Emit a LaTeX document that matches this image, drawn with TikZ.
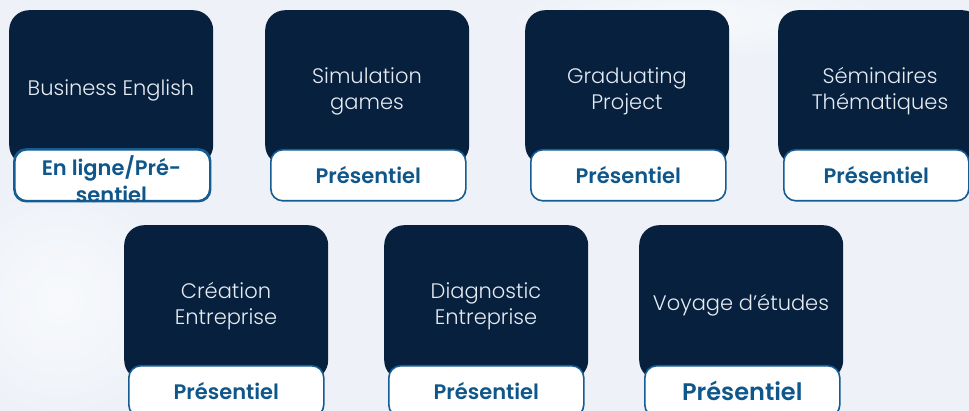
\documentclass[tikz,border=0pt]{standalone}
\usepackage{fontspec}
\setmainfont{Poppins}
\newfontfamily\lightfont{Poppins}[UprightFont=* Light]
\newfontfamily\semifont{Poppins}[UprightFont=* SemiBold]
\definecolor{navy}{HTML}{06203D}
\definecolor{bordblue}{HTML}{155C93}
\definecolor{labblue}{HTML}{0F568B}
\definecolor{bgc}{HTML}{EEF2F8}
\definecolor{softwhite}{HTML}{E6EBF2}
\begin{document}
\begin{tikzpicture}[x=1pt,y=-1pt,
  darkbox/.style={fill=navy, rounded corners=20pt, minimum width=204pt, minimum height=155pt,
    anchor=north west, inner sep=0pt},
  boxtext/.style={text=softwhite, align=center, font=\lightfont\fontsize{21}{26}\selectfont},
  labbox/.style={fill=white, draw=bordblue, line width=1.6pt, rounded corners=12pt,
    minimum width=195pt, minimum height=51pt, anchor=north west, inner sep=0pt,
    text=labblue, align=center, font=\semifont\fontsize{21}{27}\selectfont}]
\useasboundingbox (0,0) rectangle (969,411);
\clip (0,0) rectangle (969,411);
\fill[bgc] (0,0) rectangle (969,411);
\shade[inner color=white, outer color=bgc, opacity=0.6] (60,300) circle (120pt);
\shade[inner color=white, outer color=bgc, opacity=0.5] (700,20) ellipse (200pt and 40pt);
% top row
\node[darkbox] (b1) at (9,10) {};
\node[darkbox] (b2) at (265,10) {};
\node[darkbox] (b3) at (525,10) {};
\node[darkbox] (b4) at (778,10) {};
\node[boxtext] (t1) at (111,90) {Business English};
\node[boxtext] (t2) at (367,91) {Simulation\\games};
\node[boxtext] (t3) at (627,91) {Graduating\\Project};
\node[boxtext] (t4) at (880,91) {Séminaires\\Thématiques};
\node[labbox] (l1) at (14,149) {};
\node[text=labblue, align=center, font=\semifont\fontsize{21}{27}\selectfont] (lt1) at (111.5,179) {En ligne/Pré-\\sentiel};
\draw[bordblue, line width=1.6pt, rounded corners=12pt] (l1.north west) rectangle (l1.south east);
\node[labbox] (l2) at (270,149) {Présentiel};
\node[labbox] (l3) at (530,149) {Présentiel};
\node[labbox, minimum width=185pt] (l4) at (783,149) {Présentiel};
% bottom row
\node[darkbox] (b5) at (124,225) {};
\node[darkbox] (b6) at (384,225) {};
\node[darkbox] (b7) at (639,225) {};
\node[boxtext] (t5) at (226,306) {Création\\Entreprise};
\node[boxtext] (t6) at (486,306) {Diagnostic\\Entreprise};
\node[boxtext] (t7) at (741,305) {Voyage d’études};
\node[labbox] (l5) at (128,365) {Présentiel};
\node[labbox] (l6) at (388,365) {Présentiel};
\node[labbox, font=\semifont\fontsize{24}{27}\selectfont] (l7) at (644,365) {Présentiel};
\end{tikzpicture}
\end{document}
